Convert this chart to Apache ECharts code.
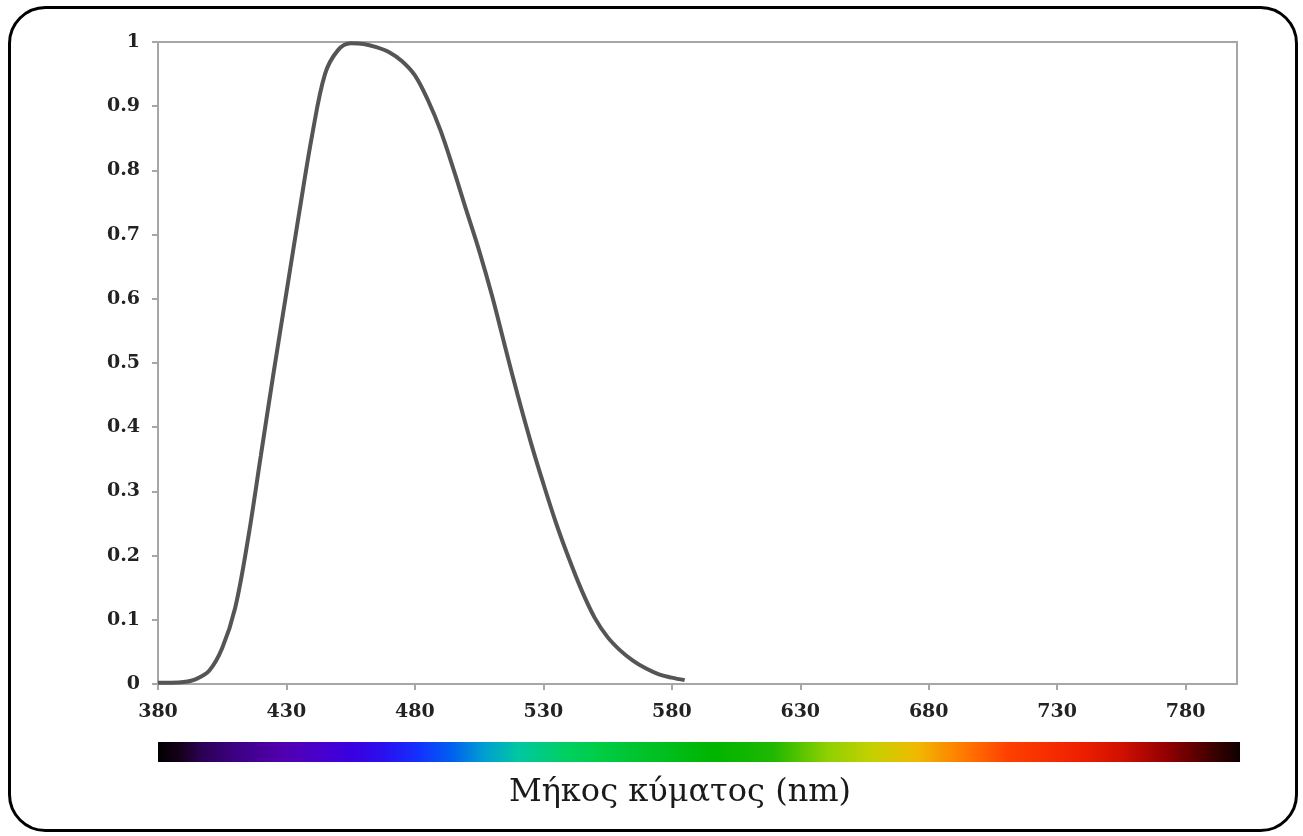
<!DOCTYPE html>
<html>
<head>
<meta charset="utf-8">
<script src="https://cdn.jsdelivr.net/npm/echarts@6/dist/echarts.min.js"></script>
<style>
html,body{margin:0;padding:0;background:#fff;}
#chart{width:1303px;height:836px;}
</style>
</head>
<body>
<div id="chart"></div>
<script>
// Wavelength (nm)
var wavelengths = [380,385,390,395,400,405,410,415,420,425,430,435,440,445,450,455,460,465,470,475,480,485,490,495,500,505,510,515,520,525,530,535,540,545,550,555,560,565,570,575,580,585];
// Relative response
var response = [0.002,0.002,0.003,0.008,0.021,0.056,0.118,0.225,0.355,0.485,0.61,0.735,0.855,0.95,0.987,0.998,0.997,0.992,0.984,0.97,0.948,0.91,0.862,0.802,0.738,0.675,0.605,0.527,0.45,0.378,0.312,0.25,0.195,0.145,0.103,0.073,0.052,0.036,0.024,0.015,0.010,0.006];
var xTickLabels = [380,430,480,530,580,630,680,730,780];
var xTitle = 'Μήκος κύματος (nm)';
// spectrum colour stops: wavelength, colour
var spectrumNm = [380,390,396,409,429,442,455,468,481,494,507,520,539,552,596,619,640,658,675,693,710,737,754,772,789,800];
var spectrumColors = ['#000000','#1a0020','#2a0050','#3c0080','#5000b0','#4a00cc','#3a00e0','#2a10f0','#1430ff','#0060f0','#00a0d0','#00c8a0','#00d060','#00cc44','#00b400','#20b800','#90d000','#c8d000','#f0b800','#ff7800','#ff4000','#f02000','#d01000','#900000','#400000','#100000'];

var xMin = 380, xMax = 800;
var seriesData = wavelengths.map(function(w,i){return [w, response[i]];});
var stops = spectrumNm.map(function(w,i){return {offset:(w-xMin)/(xMax-xMin), color:spectrumColors[i]};});

var gridLeft = 158, gridTop = 42, gridRight = 66, gridBottom = 152;
var chart = echarts.init(document.getElementById('chart'), null, {renderer:'canvas'});
var labelFont = {fontFamily:'DejaVu Serif', fontWeight:'bold', fontSize:19, color:'#222'};
chart.setOption({
  animation:false,
  backgroundColor:'#fff',
  grid:{left:gridLeft, top:gridTop, right:gridRight, bottom:gridBottom, show:true, borderColor:'#a6a6a6', borderWidth:2, backgroundColor:'transparent'},
  xAxis:{
    type:'value', min:xMin, max:xMax, interval:50,
    axisLine:{show:true, lineStyle:{color:'#a6a6a6', width:2}},
    axisTick:{show:true, length:6, lineStyle:{color:'#a6a6a6', width:2}, customValues:xTickLabels},
    axisLabel:Object.assign({margin:19, customValues:xTickLabels}, labelFont),
    splitLine:{show:false}
  },
  yAxis:{
    type:'value', min:0, max:1, interval:0.1,
    axisLine:{show:true, lineStyle:{color:'#a6a6a6', width:2}},
    axisTick:{show:true, length:6, lineStyle:{color:'#a6a6a6', width:2}},
    axisLabel:Object.assign({margin:18}, labelFont),
    splitLine:{show:false}
  },
  series:[{
    type:'line', data:seriesData, smooth:0.35, symbol:'none',
    lineStyle:{color:'#555555', width:4}
  }],
  graphic:[
    {type:'rect', shape:{x:9.5, y:7.5, width:1287, height:823, r:36}, style:{fill:'none', stroke:'#000', lineWidth:3}, z:100},
    {type:'rect', shape:{x:gridLeft, y:742, width:1303-gridRight-gridLeft+3, height:20},
     style:{fill:new echarts.graphic.LinearGradient(0,0,1,0,stops)}},
    {type:'text', x:680, y:793, style:{text:xTitle, font:'32px "DejaVu Serif"', fill:'#1a1a1a', textAlign:'center', textVerticalAlign:'middle'}}
  ]
});
</script>
</body>
</html>
